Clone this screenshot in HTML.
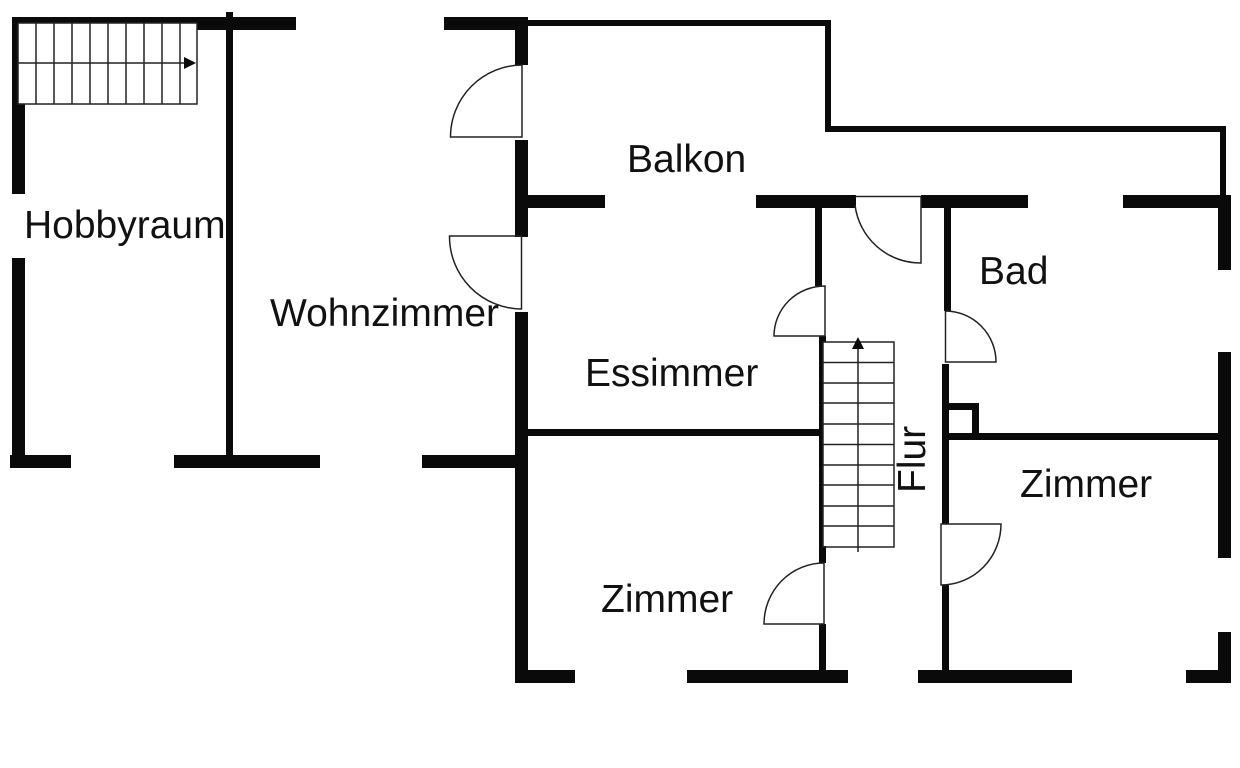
<!DOCTYPE html>
<html><head><meta charset="utf-8">
<style>html,body{margin:0;padding:0;background:#fff}svg{display:block}text{font-family:"Liberation Sans",Arial,sans-serif;font-size:39px;fill:#111}</style>
</head><body>
<svg width="1240" height="768" viewBox="0 0 1240 768" xmlns="http://www.w3.org/2000/svg">
<rect width="1240" height="768" fill="#fff"/>
<g fill="#0a0a0a">
<!-- left section -->
<rect x="12" y="17" width="185" height="6"/>
<rect x="197" y="17" width="99" height="13"/>
<rect x="12" y="17" width="6" height="88"/>
<rect x="12" y="104" width="13" height="90"/>
<rect x="226" y="12" width="7" height="445"/>
<rect x="12" y="258" width="13" height="200"/>
<rect x="10" y="455" width="61" height="13"/>
<rect x="174" y="455" width="146" height="13"/>
<rect x="422" y="455" width="100" height="13"/>
<!-- balcony -->
<rect x="444" y="17" width="84" height="13"/>
<rect x="528" y="20" width="303" height="6"/>
<rect x="825" y="20" width="6" height="112"/>
<rect x="825" y="126" width="401" height="6"/>
<rect x="1220" y="126" width="6" height="72"/>
<!-- outer walls -->
<rect x="1123" y="195" width="108" height="13"/>
<rect x="1218" y="195" width="13" height="75"/>
<rect x="1218" y="352" width="13" height="206"/>
<rect x="1218" y="632" width="13" height="51"/>
<rect x="1186" y="670" width="45" height="13"/>
<rect x="515" y="17" width="13" height="48"/>
<rect x="515" y="140" width="13" height="97"/>
<rect x="528" y="195" width="77" height="13"/>
<rect x="515" y="312" width="13" height="371"/>
<rect x="515" y="670" width="60" height="13"/>
<rect x="687" y="670" width="161" height="13"/>
<rect x="918" y="670" width="154" height="13"/>
<rect x="756" y="195" width="100" height="13"/>
<rect x="921" y="195" width="107" height="13"/>
<!-- interior -->
<rect x="528" y="429" width="293" height="7"/>
<rect x="815" y="208" width="7" height="78"/>
<rect x="819" y="336" width="7" height="6"/>
<rect x="819" y="342" width="4" height="205"/>
<rect x="819" y="546" width="7" height="17"/>
<rect x="819" y="624" width="7" height="46"/>
<rect x="944" y="208" width="7" height="103"/>
<rect x="942" y="364" width="7" height="160"/>
<rect x="942" y="585" width="7" height="85"/>
<rect x="949" y="403" width="30" height="7"/>
<rect x="972" y="403" width="7" height="33"/>
<rect x="949" y="433" width="270" height="7"/>
</g>
<g fill="none" stroke="#222" stroke-width="1.5">
<!-- stairs top-left -->
<rect x="18" y="23" width="179" height="81"/>
<path d="M36 23V104M54 23V104M72 23V104M90 23V104M108 23V104M126 23V104M144 23V104M162 23V104M180 23V104M18 63H186"/>
<!-- stairs centre -->
<rect x="823" y="342" width="71" height="205"/>
<path d="M823 362.500H894M823 383H894M823 403H894M823 424H894M823 444.500H894M823 465H894M823 485H894M823 506H894M823 526H894M858 345V552"/>
<!-- doors -->
<path d="M522 65V137H450.500A72 72 0 0 1 522 65Z"/>
<path d="M521.500 236H449.500A72.500 72.500 0 0 0 521.500 309Z"/>
<path d="M855 196.500H921V263A66 66 0 0 1 855 205"/>
<path d="M825 286V336H774A51 50 0 0 1 825 286Z"/>
<path d="M824 563V624H764A60 61 0 0 1 824 563Z"/>
<path d="M945.500 311V362H996A51 51 0 0 0 945.500 311Z"/>
<path d="M941 524H1001A60 61 0 0 1 941 585Z"/>
</g>
<g fill="#0a0a0a">
<polygon points="184,57 196,63 184,69"/>
<polygon points="858,337 852,349 864,349"/>
</g>
<text x="24" y="238">Hobbyraum</text>
<text x="270" y="326">Wohnzimmer</text>
<text x="627" y="172">Balkon</text>
<text x="585" y="386">Essimmer</text>
<text x="979" y="284">Bad</text>
<text x="1020" y="497">Zimmer</text>
<text x="601" y="612">Zimmer</text>
<text transform="translate(925 493) rotate(-90)">Flur</text>
</svg>
</body></html>
